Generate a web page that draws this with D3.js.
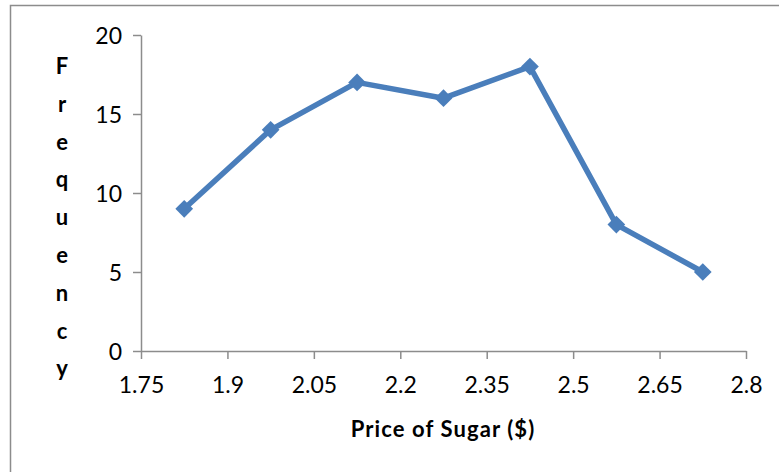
<!DOCTYPE html>
<html lang="en">
<head>
  <meta charset="UTF-8">
  <title>Price of Sugar</title>
  <script src="https://d3js.org/d3.v7.min.js"></script>
  <style>
    body { margin: 0; background: #fff; }
    svg { display: block; font-family: Lato, "Open Sans", sans-serif; }
  </style>
</head>
<body>
  <svg id="chart" width="779" height="472"></svg>
  <script>
    // data
    const prices = [1.825, 1.975, 2.125, 2.275, 2.425, 2.575, 2.725];
    const freqs = [9, 14, 17, 16, 18, 8, 5];
    const xTicks = [1.75, 1.9, 2.05, 2.2, 2.35, 2.5, 2.65, 2.8];
    const yTicks = [0, 5, 10, 15, 20];

    const svg = d3.select("#chart");

    // chart frame
    svg.append("path")
      .attr("d", "M779,5.5 H10.5 V472")
      .attr("fill", "none")
      .attr("stroke", "#8c8c8c")
      .attr("stroke-width", 1.5);

    const x = d3.scaleLinear().domain([1.75, 2.8]).range([141, 746]);
    const y = d3.scaleLinear().domain([0, 20]).range([351, 35]);

    const xAxis = svg.append("g")
      .attr("transform", `translate(0,${y(0)})`)
      .call(d3.axisBottom(x).tickValues(xTicks).tickSize(8).tickSizeOuter(0)
        .tickFormat(d => String(+d.toFixed(2))));
    const yAxis = svg.append("g")
      .attr("transform", `translate(${x(1.75)},0)`)
      .call(d3.axisLeft(y).tickValues(yTicks).tickSize(8).tickSizeOuter(0));

    [xAxis, yAxis].forEach(g => {
      g.select(".domain").attr("stroke", "#8c8c8c").attr("stroke-width", 1.5);
      g.selectAll(".tick line").attr("stroke", "#8c8c8c").attr("stroke-width", 1.5);
      g.selectAll(".tick text").attr("fill", "#000").style("font-size", "23px")
        .style("font-family", "Lato, 'Open Sans', sans-serif");
    });
    xAxis.selectAll(".tick text").attr("y", 42).attr("dy", 0);
    yAxis.selectAll(".tick text").attr("x", -19).attr("dy", "0.36em");

    // series line
    const line = d3.line().x((d, i) => x(prices[i])).y(d => y(d));
    svg.append("path")
      .datum(freqs)
      .attr("d", line)
      .attr("fill", "none")
      .attr("stroke", "#4a7ebb")
      .attr("stroke-width", 5.5)
      .attr("stroke-linejoin", "round");

    svg.selectAll("path.marker")
      .data(freqs)
      .enter().append("path")
      .attr("class", "marker")
      .attr("d", d3.symbol().type(d3.symbolDiamond2).size(200))
      .attr("transform", (d, i) => `translate(${x(prices[i])},${y(d)})`)
      .attr("fill", "#4a7ebb");

    // axis titles
    svg.append("text")
      .attr("x", 443)
      .attr("y", 437)
      .attr("text-anchor", "middle")
      .style("font-size", "22px")
      .style("font-weight", "bold")
      .style("letter-spacing", "1.1px")
      .text("Price of Sugar ($)");

    const letters = "Frequency".split("");
    svg.append("g").selectAll("text")
      .data(letters)
      .enter().append("text")
      .attr("x", 62)
      .attr("y", (d, i) => 74 + i * 37.8)
      .attr("text-anchor", "middle")
      .style("font-size", "22px")
      .style("font-weight", "bold")
      .text(d => d);
  </script>
</body>
</html>
